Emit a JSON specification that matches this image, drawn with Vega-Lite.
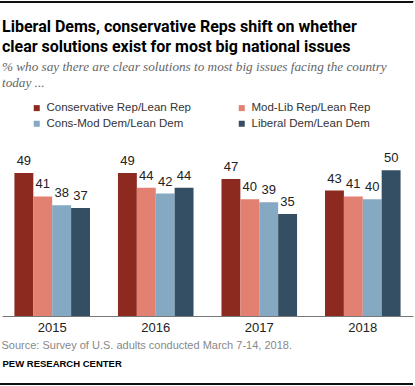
{
  "$schema": "https://vega.github.io/schema/vega-lite/v6.json",
  "width": 411,
  "height": 175,
  "autosize": {"type": "none"},
  "padding": {"left": 2, "top": 141, "right": 2, "bottom": 70},
  "background": "white",
  "config": {
    "view": {"stroke": null},
    "font": "Liberation Sans",
    "text": {"font": "Liberation Sans"}
  },
  "title": {
    "text": ["Liberal Dems, conservative Reps shift on whether", "clear solutions exist for most big national issues"],
    "subtitle": ["% who say there are clear solutions to most big issues facing the country", "today ..."],
    "anchor": "start",
    "frame": "group",
    "font": "Roboto",
    "fontSize": 16,
    "fontWeight": "bold",
    "color": "#000000",
    "lineHeight": 20,
    "subtitleFont": "Liberation Serif",
    "subtitleFontStyle": "italic",
    "subtitleFontSize": 13.2,
    "subtitleColor": "#666666",
    "subtitleLineHeight": 16,
    "subtitlePadding": 6,
    "offset": -88
  },
  "datasets": {
    "survey": [
      {"year": "2015", "group": "Conservative Rep/Lean Rep", "value": 49},
      {"year": "2015", "group": "Mod-Lib Rep/Lean Rep", "value": 41},
      {"year": "2015", "group": "Cons-Mod Dem/Lean Dem", "value": 38},
      {"year": "2015", "group": "Liberal Dem/Lean Dem", "value": 37},
      {"year": "2016", "group": "Conservative Rep/Lean Rep", "value": 49},
      {"year": "2016", "group": "Mod-Lib Rep/Lean Rep", "value": 44},
      {"year": "2016", "group": "Cons-Mod Dem/Lean Dem", "value": 42},
      {"year": "2016", "group": "Liberal Dem/Lean Dem", "value": 44},
      {"year": "2017", "group": "Conservative Rep/Lean Rep", "value": 47},
      {"year": "2017", "group": "Mod-Lib Rep/Lean Rep", "value": 40},
      {"year": "2017", "group": "Cons-Mod Dem/Lean Dem", "value": 39},
      {"year": "2017", "group": "Liberal Dem/Lean Dem", "value": 35},
      {"year": "2018", "group": "Conservative Rep/Lean Rep", "value": 43},
      {"year": "2018", "group": "Mod-Lib Rep/Lean Rep", "value": 41},
      {"year": "2018", "group": "Cons-Mod Dem/Lean Dem", "value": 40},
      {"year": "2018", "group": "Liberal Dem/Lean Dem", "value": 50}
    ]
  },
  "data": {"name": "survey"},
  "layer": [
    {
      "mark": {"type": "rule", "color": "#111111", "strokeWidth": 1},
      "encoding": {
        "x": {
          "datum": -0.005, "type": "quantitative",
          "scale": {"domain": [0, 1], "nice": false, "zero": false},
          "axis": {
            "orient": "top", "offset": 140, "labels": false, "ticks": false, "grid": false,
            "title": null, "domain": true, "domainColor": "#111111", "domainWidth": 1
          }
        },
        "x2": {"datum": 1},
        "y": {"datum": 107.7}
      }
    },
    {
      "mark": {"type": "rule", "color": "#111111", "strokeWidth": 1},
      "encoding": {
        "x": {"datum": -0.005, "type": "quantitative", "scale": {"domain": [0, 1], "nice": false, "zero": false}, "axis": null},
        "x2": {"datum": 1},
        "y": {"datum": -23.3}
      }
    },
    {
      "layer": [
        {
          "mark": {"type": "bar"},
          "encoding": {
            "x": {
              "field": "year", "type": "nominal",
              "scale": {"paddingInner": 0.27, "paddingOuter": 0.12},
              "axis": {
                "title": "Source: Survey of U.S. adults conducted March 7-14, 2018.",
                "titleFontSize": 11, "titleColor": "#888888", "titleFontWeight": "normal",
                "titleAnchor": "start", "titleAlign": "left", "titleBaseline": "alphabetic",
                "titleX": -1, "titleY": 32,
                "labelAngle": 0, "labelFontSize": 13, "labelColor": "#222222", "labelPadding": 5,
                "ticks": false, "domainColor": "#777777", "domainWidth": 1, "grid": false
              }
            },
            "xOffset": {
              "field": "group", "type": "nominal",
              "sort": ["Conservative Rep/Lean Rep", "Mod-Lib Rep/Lean Rep", "Cons-Mod Dem/Lean Dem", "Liberal Dem/Lean Dem"],
              "scale": {"paddingInner": 0, "paddingOuter": 0}
            },
            "y": {
              "field": "value", "type": "quantitative",
              "scale": {"domain": [0, 60], "nice": false},
              "axis": {
                "labels": false, "ticks": false, "domain": false, "grid": false,
                "title": "PEW RESEARCH CENTER", "titleAngle": 0, "titleAlign": "left",
                "titleBaseline": "alphabetic", "titleX": 0, "titleY": 225,
                "titleFontSize": 9.5, "titleFontWeight": "bold", "titleColor": "#000000"
              }
            },
            "color": {
              "field": "group", "type": "nominal",
              "scale": {
                "domain": ["Conservative Rep/Lean Rep", "Cons-Mod Dem/Lean Dem", "Mod-Lib Rep/Lean Rep", "Liberal Dem/Lean Dem"],
                "range": ["#8C2A1F", "#85A8C3", "#E28071", "#344F63"]
              },
              "legend": {
                "orient": "none", "legendX": 29, "legendY": -39,
                "title": null, "columns": 2, "columnPadding": 45, "rowPadding": 3,
                "symbolType": "square", "symbolSize": 36, "symbolStrokeWidth": 0,
                "labelFontSize": 11.5, "labelColor": "#333333", "labelOffset": 4
              }
            }
          }
        },
        {
          "mark": {"type": "text", "baseline": "alphabetic", "dy": -8, "fontSize": 13, "color": "#222222"},
          "encoding": {
            "x": {"field": "year", "type": "nominal"},
            "xOffset": {"field": "group", "type": "nominal", "sort": ["Conservative Rep/Lean Rep", "Mod-Lib Rep/Lean Rep", "Cons-Mod Dem/Lean Dem", "Liberal Dem/Lean Dem"]},
            "y": {"field": "value", "type": "quantitative"},
            "text": {"field": "value", "type": "quantitative"}
          }
        }
      ]
    }
  ],
  "resolve": {"scale": {"x": "independent"}, "axis": {"x": "independent"}}
}
